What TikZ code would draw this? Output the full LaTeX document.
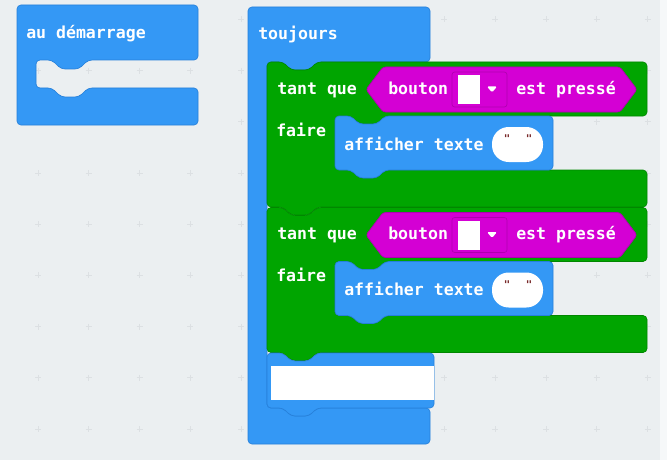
\documentclass[tikz,border=0pt]{standalone}
\usepackage{fontspec}
\newfontfamily\blockfont{DejaVu Sans Mono}

\definecolor{canvas}{RGB}{235,239,241}
\definecolor{canvasedge}{RGB}{246,248,249}
\definecolor{gridmark}{RGB}{220,224,227}
\definecolor{basicblue}{RGB}{52,152,245}
\definecolor{basicblueedge}{RGB}{38,128,218}
\definecolor{loopgreen}{RGB}{0,165,0}
\definecolor{loopgreenedge}{RGB}{0,135,0}
\definecolor{inputpink}{RGB}{212,0,212}
\definecolor{inputpinkedge}{RGB}{176,0,176}
\definecolor{quotemark}{RGB}{120,40,40}

\tikzset{
  blueblock/.style={fill=basicblue, draw=basicblueedge, line width=0.5pt, rounded corners=3pt},
  greenblock/.style={fill=loopgreen, draw=loopgreenedge, line width=0.5pt, rounded corners=3pt},
  pinkblock/.style={fill=inputpink, draw=inputpinkedge, line width=0.5pt, rounded corners=2pt},
  blocktext/.style={text=white, font=\blockfont\bfseries\fontsize{12.4pt}{14pt}\selectfont,
    inner sep=0pt, anchor=base west},
  quotetext/.style={text=quotemark, font=\blockfont\bfseries\fontsize{8pt}{9pt}\selectfont,
    inner sep=0pt},
  crossmark/.style={draw=gridmark, line width=0.6pt},
}

% one "tant que ... faire ..." loop with its button condition and text statement
\newcommand\loopgroup[1]{%
  \draw[greenblock] (267,62) -- (283,62) -- (291,70) -- (309,70) -- (317,62)
    -- (647,62) -- (647,116) -- (385,116) -- (377,124) -- (359,124) -- (351,116)
    -- (335,116) -- (335,170) -- (351,170) -- (359,178) -- (377,178) -- (385,170)
    -- (647,170) -- (647,207) -- (317,207) -- (309,215) -- (291,215) -- (283,207)
    -- (267,207) -- cycle;
  % condition: bouton [ ] est pressé
  \draw[pinkblock] (366,89.5) -- (383,67) -- (620,67) -- (637,89.5) -- (620,112)
    -- (383,112) -- cycle;
  \draw[inputpinkedge, line width=0.5pt, rounded corners=2pt] (452,72) rectangle (507,107);
  \fill[white] (458,75) rectangle (480,104);
  \fill[white, rounded corners=1pt] (487,86.5) -- (497,86.5) -- (492,92.5) -- cycle;
  \node[blocktext] (tantque#1) at (277,94) {tant que};
  \node[blocktext] (bouton#1) at (388,94) {bouton};
  \node[blocktext] (presse#1) at (516,94) {est pressé};
  \node[blocktext] (faire#1) at (276,136) {faire};
  % statement: afficher texte " "
  \draw[blueblock] (335,116) -- (351,116) -- (359,124) -- (377,124) -- (385,116)
    -- (553,116) -- (553,170) -- (385,170) -- (377,178) -- (359,178) -- (351,170)
    -- (335,170) -- cycle;
  \node[blocktext] (afficher#1) at (344,150) {afficher texte};
  \fill[white, rounded corners=12.5pt] (492,127) rectangle (543,162);
  \node[quotetext] (qopen#1) at (507,139) {"};
  \node[quotetext] (qclose#1) at (529,139) {"};
}

\begin{document}
\begin{tikzpicture}[x=0.75pt, y=-0.75pt]
\useasboundingbox (0,0) rectangle (667,460);
\fill[canvas] (0,0) rectangle (660,460);
\fill[canvasedge] (660,0) rectangle (667,460);

% workspace grid
\foreach \i in {0,...,12}{
  \foreach \j in {0,...,8}{
    \draw[crossmark] ({38+50.8*\i},{19.4+51.2*\j}) ++(-3,0) -- ++(6,0) ++(-3,-3) -- ++(0,6);
  }
}

% au démarrage (empty)
\draw[blueblock] (17,5) -- (198,5) -- (198,60) -- (88,60) -- (79,69) -- (61,69)
  -- (52,60) -- (36,60) -- (36,88) -- (52,88) -- (61,97) -- (79,97) -- (88,88)
  -- (198,88) -- (198,125) -- (17,125) -- cycle;
\node[blocktext] (start) at (26,39) {au démarrage};

% toujours
\draw[blueblock] (248,7) -- (430,7) -- (430,62) -- (317,62) -- (309,70) -- (291,70)
  -- (283,62) -- (267,62) -- (267,408) -- (283,408) -- (291,416) -- (309,416)
  -- (317,408) -- (430,408) -- (430,444) -- (248,444) -- cycle;
\node[blocktext] (forever) at (258,40) {toujours};

\begin{scope}
  \loopgroup{a}
\end{scope}
\begin{scope}[shift={(0,145.5)}]
  \loopgroup{b}
\end{scope}

% last statement with a blank field
\draw[blueblock] (267,353) -- (283,353) -- (291,361) -- (309,361) -- (317,353)
  -- (434,353) -- (434,408) -- (317,408) -- (309,416) -- (291,416) -- (283,408)
  -- (267,408) -- cycle;
\fill[white] (271,366) rectangle (434,400);
\end{tikzpicture}
\end{document}
